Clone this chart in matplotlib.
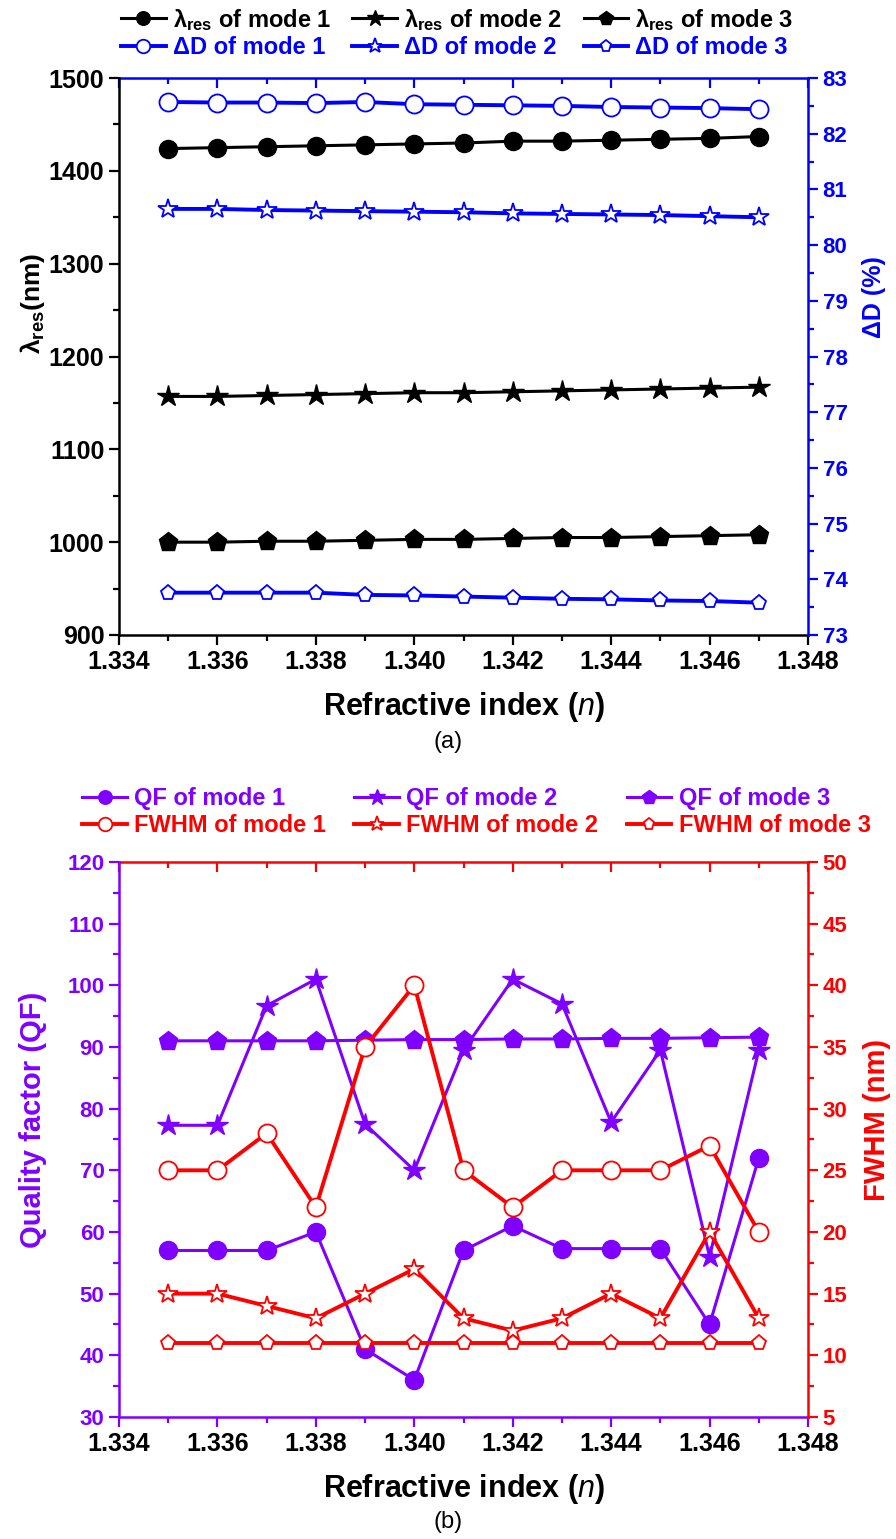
import matplotlib
matplotlib.use('Agg')
import matplotlib.pyplot as plt
from matplotlib.ticker import MultipleLocator

plt.rcParams['font.family'] = ['Liberation Sans', 'DejaVu Sans']
plt.rcParams['mathtext.fontset'] = 'custom'
plt.rcParams['mathtext.rm'] = 'Liberation Sans'
plt.rcParams['mathtext.bf'] = 'Liberation Sans:bold'
plt.rcParams['mathtext.it'] = 'Liberation Sans:italic'

# refractive index
n = [1.335, 1.336, 1.337, 1.338, 1.339, 1.340, 1.341, 1.342, 1.343, 1.344, 1.345, 1.346, 1.347]

# panel (a): resonance wavelength (nm)
lam1 = [1424, 1425, 1426, 1427, 1428, 1429, 1430, 1432, 1432, 1433, 1434, 1435, 1437]
lam2 = [1157, 1157, 1158, 1159, 1160, 1161, 1161, 1162, 1163, 1164, 1165, 1166, 1167]
lam3 = [1000, 1000, 1001, 1001, 1002, 1003, 1003, 1004, 1005, 1005, 1006, 1007, 1008]
# panel (a): delta D (%)
dd1 = [82.57, 82.56, 82.56, 82.55, 82.57, 82.53, 82.52, 82.51, 82.50, 82.48, 82.47, 82.46, 82.44]
dd2 = [80.65, 80.65, 80.63, 80.62, 80.61, 80.60, 80.59, 80.57, 80.56, 80.55, 80.54, 80.52, 80.50]
dd3 = [73.76, 73.76, 73.76, 73.76, 73.72, 73.71, 73.69, 73.67, 73.65, 73.64, 73.62, 73.61, 73.58]

# panel (b): quality factor
qf1 = [57, 57, 57, 60, 41, 36, 57, 61, 57.3, 57.3, 57.3, 45, 72]
qf2 = [77.3, 77.3, 96.7, 101, 77.5, 70, 89.5, 101, 97, 77.8, 89.5, 56, 89.5]
qf3 = [91, 91, 91, 91, 91.1, 91.2, 91.2, 91.3, 91.3, 91.4, 91.4, 91.5, 91.6]
# panel (b): FWHM (nm)
fw1 = [25, 25, 28, 22, 35, 40, 25, 22, 25, 25, 25, 27, 20]
fw2 = [15, 15, 14, 13, 15, 17, 13, 12, 13, 15, 13, 20, 13]
fw3 = [11, 11, 11, 11, 11, 11, 11, 11, 11, 11, 11, 11, 11]

BLUE = '#0000FF'
RED = '#FF0000'
PURPLE = '#7F00FF'
BLACK = 'black'

LAB_FS = 22
LEG_FS = 17


def style_axis(ax, axis, color, major, minor, side, size):
    ax.tick_params(axis=axis, which='major', direction='out', length=7, width=1.6,
                   colors=color, labelsize=size)
    ax.tick_params(axis=axis, which='minor', direction='out', length=4, width=1.6,
                   colors=color)
    loc = ax.yaxis if axis == 'y' else ax.xaxis
    loc.set_major_locator(MultipleLocator(major))
    loc.set_minor_locator(MultipleLocator(minor))
    for lab in (ax.get_yticklabels() if axis == 'y' else ax.get_xticklabels()):
        lab.set_fontweight('bold')
    ax.spines[side].set_color(color)
    ax.spines[side].set_linewidth(1.8)


def panel(fig, rect, left_series, right_series, lcol, rcol, xcol,
          ylim_l, ylim_r, lmaj, lmin, rmaj, rmin, lsize):
    ax = fig.add_axes(rect)
    ax2 = ax.twinx()
    for vals, mk, ms in left_series:
        ax.plot(n, vals, color=lcol, lw=2.2, marker=mk, ms=ms, mfc=lcol, mec=lcol,
                clip_on=False, zorder=3)
    for vals, mk, ms in right_series:
        ax2.plot(n, vals, color=rcol, lw=2.8, marker=mk, ms=ms, mfc='white', mec=rcol,
                 mew=1.3, clip_on=False, zorder=3)
    ax.set_xlim(1.334, 1.348)
    ax.set_ylim(*ylim_l)
    ax2.set_ylim(*ylim_r)
    style_axis(ax, 'x', xcol, 0.002, 0.001, 'bottom', 18)
    ax.xaxis.set_major_formatter(plt.FormatStrFormatter('%.3f'))
    ax.tick_params(axis='x', labelcolor=BLACK)
    for lab in ax.get_xticklabels():
        lab.set_fontweight('bold')
    style_axis(ax, 'y', lcol, lmaj, lmin, 'left', lsize)
    style_axis(ax2, 'y', rcol, rmaj, rmin, 'right', 16)
    ax.spines['top'].set_visible(False)
    ax.spines['right'].set_visible(False)
    ax2.spines['left'].set_visible(False)
    ax2.spines['bottom'].set_visible(False)
    ax2.spines['top'].set_visible(False)
    sec = ax.secondary_xaxis('top')
    sec.xaxis.set_major_locator(MultipleLocator(0.002))
    sec.xaxis.set_minor_locator(MultipleLocator(0.001))
    sec.tick_params(which='major', direction='in', length=7, width=1.6, colors=rcol,
                    labeltop=False)
    sec.tick_params(which='minor', direction='in', length=4, width=1.6, colors=rcol)
    sec.spines['top'].set_color(rcol)
    sec.spines['top'].set_linewidth(1.8)
    ax.set_xlabel('Refractive index ($\\mathbf{\\mathit{n}}$)', fontsize=LAB_FS,
                  fontweight='bold', labelpad=12)
    return ax, ax2


fig = plt.figure(figsize=(8.96, 15.39), dpi=100)

# ---- panel (a)
axa, axa2 = panel(fig, [0.1328, 0.5874, 0.769, 0.3619],
                  [(lam1, 'o', 13), (lam2, '*', 16), (lam3, 'p', 14)],
                  [(dd1, 'o', 13), (dd2, '*', 15), (dd3, 'p', 11)],
                  BLACK, BLUE, BLACK, (900, 1500), (73, 83), 100, 50, 1, 0.5, 18)
axa.set_ylabel('λ$_{\\bf res}$(nm)', fontsize=19, fontweight='bold')
axa.yaxis.set_label_coords(-0.104, 0.596)
axa2.set_ylabel('ΔD (%)', fontsize=18, fontweight='bold', color=BLUE)
axa2.yaxis.set_label_coords(1.078, 0.607)

# ---- panel (b)
axb, axb2 = panel(fig, [0.1328, 0.0793, 0.769, 0.3606],
                  [(qf1, 'o', 13), (qf2, '*', 16), (qf3, 'p', 14)],
                  [(fw1, 'o', 13), (fw2, '*', 15), (fw3, 'p', 11)],
                  PURPLE, RED, PURPLE, (30, 120), (5, 50), 10, 5, 5, 2.5, 16)
axb.set_ylabel('Quality factor (QF)', fontsize=21, fontweight='bold', color=PURPLE)
axb.yaxis.set_label_coords(-0.104, 0.535)
axb2.set_ylabel('FWHM (nm)', fontsize=21, fontweight='bold', color=RED)
axb2.yaxis.set_label_coords(1.08, 0.535)

fig.text(0.5, 1 - 742 / 1539, '(a)', ha='center', va='center', fontsize=17)
fig.text(0.5, 1 - 1522 / 1539, '(b)', ha='center', va='center', fontsize=17)


# ---- legends (column-major order so rows are grouped)
def legend(ax_l, ax_r, labels_l, labels_r, lcol, rcol, anchor, spacing):
    hl = ax_l.get_lines()
    hr = ax_r.get_lines()
    handles, labels, colors = [], [], []
    for i in range(3):
        handles += [hl[i], hr[i]]
        labels += [labels_l[i], labels_r[i]]
        colors += [lcol, rcol]
    leg = fig.legend(handles, labels, ncol=3, loc='upper left', bbox_to_anchor=anchor,
                     frameon=False, prop={'weight': 'bold', 'size': LEG_FS},
                     handlelength=1.9, handletextpad=0.3, columnspacing=spacing,
                     labelspacing=0.15, markerscale=0.75)
    for txt, c in zip(leg.get_texts(), colors):
        txt.set_color(c)
    return leg


legend(axa, axa2,
       ['λ$_{\\bf res}$ of mode 1', 'λ$_{\\bf res}$ of mode 2', 'λ$_{\\bf res}$ of mode 3'],
       ['ΔD of mode 1', 'ΔD of mode 2', 'ΔD of mode 3'],
       BLACK, BLUE, (0.111, 1.0095), 0.9)
legend(axb, axb2,
       ['QF of mode 1', 'QF of mode 2', 'QF of mode 3'],
       ['FWHM of mode 1', 'FWHM of mode 2', 'FWHM of mode 3'],
       PURPLE, RED, (0.068, 1 - 766 / 1539), 1.2)

fig.savefig('out.png', dpi=100)
